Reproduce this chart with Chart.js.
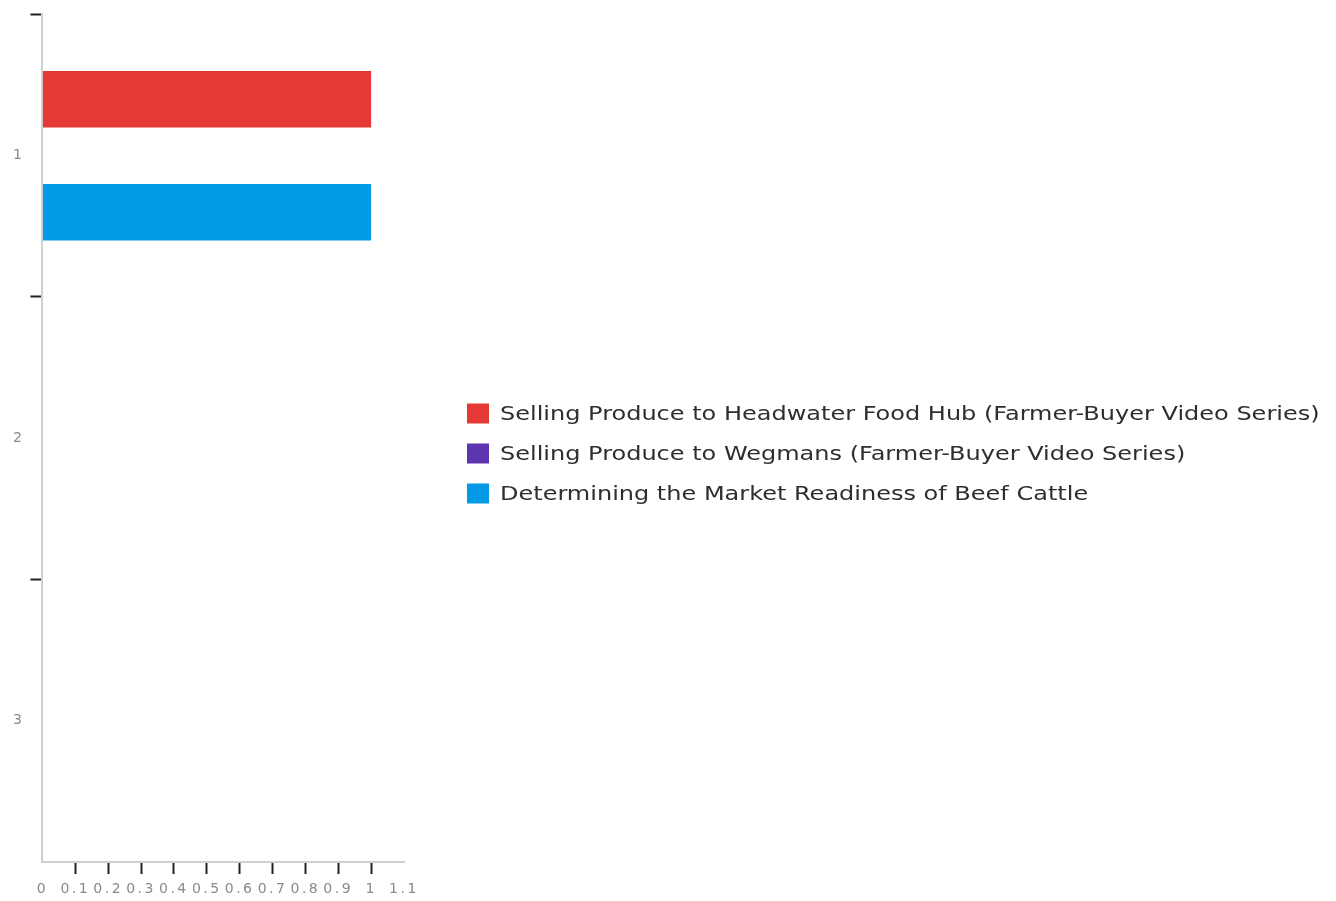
<!DOCTYPE html>
<html>
<head>
<meta charset="utf-8">
<script src="https://cdn.jsdelivr.net/npm/chart.js@4"></script>
<style>
  html, body { margin: 0; padding: 0; background: #fff; }
  #wrap { width: 1336px; height: 901px; }
</style>
</head>
<body>
<div id="wrap"><canvas id="chart" width="1336" height="901"></canvas></div>
<script>
// categories and series
var categories = ['1', '2', '3'];
var seriesNames = [
    'Selling Produce to Headwater Food Hub (Farmer-Buyer Video Series)',
    'Selling Produce to Wegmans (Farmer-Buyer Video Series)',
    'Determining the Market Readiness of Beef Cattle'
];
var headwaterValues = [1, 0, 0];
var wegmansValues = [0, 0, 0];
var beefCattleValues = [1, 0, 0];
var seriesColors = ['#e53935', '#5e35b1', '#039be5'];

// the tick text in the picture is widely spaced
var spacing = {
    id: 'spacing',
    beforeLayout: function (chart) { chart.ctx.letterSpacing = '2.5px'; },
    beforeDraw: function (chart) { chart.ctx.letterSpacing = '2.5px'; }
};

// legend drawn at the right, items stacked, text stretched wide
var sideLegend = {
    id: 'sideLegend',
    afterDraw: function (chart) {
        var c = chart.ctx;
        var sets = chart.data.datasets;
        var x = chart.chartArea.right + 63;
        var rowH = 40;
        var top = chart.height / 2 + 3 - (sets.length * rowH) / 2;
        c.save();
        c.letterSpacing = '0px';
        c.font = '20px "DejaVu Sans"';
        c.textBaseline = 'middle';
        c.textAlign = 'left';
        sets.forEach(function (ds, i) {
            var y = top + rowH * i + rowH / 2;
            c.fillStyle = ds.backgroundColor;
            c.fillRect(x, y - 10, 22, 20);
            c.save();
            c.translate(x + 33, y + 1);
            c.scale(1.2, 1);
            c.fillStyle = '#2e2e2e';
            c.fillText(ds.label, 0, 0);
            c.restore();
        });
        c.restore();
    }
};

var ctx = document.getElementById('chart').getContext('2d');
var chart = new Chart(ctx, {
    type: 'bar',
    data: {
        labels: categories,
        datasets: [
            { label: seriesNames[0], data: headwaterValues, backgroundColor: seriesColors[0] },
            { label: seriesNames[1], data: wegmansValues, backgroundColor: seriesColors[1] },
            { label: seriesNames[2], data: beefCattleValues, backgroundColor: seriesColors[2] }
        ]
    },
    plugins: [spacing, sideLegend],
    options: {
        indexAxis: 'y',
        responsive: false,
        animation: false,
        categoryPercentage: 0.6,
        barPercentage: 1,
        layout: { padding: { top: 4, left: 7, right: 932, bottom: 0 } },
        plugins: {
            tooltip: { enabled: false },
            legend: { display: false }
        },
        scales: {
            x: {
                min: 0,
                max: 1.1,
                afterFit: function (s) { s.height = 39; },
                ticks: {
                    stepSize: 0.1,
                    autoSkip: false,
                    maxRotation: 0,
                    color: '#8a8a8a',
                    padding: 7,
                    font: { family: 'DejaVu Sans', size: 14 },
                    callback: function (v) { return String(Number(v.toFixed(1))); }
                },
                grid: {
                    drawOnChartArea: false,
                    tickLength: 12,
                    tickWidth: 2,
                    tickColor: function (c) {
                        return (c.index === 0 || c.index === 11) ? 'rgba(0,0,0,0)' : '#222';
                    }
                },
                border: { color: '#d0d0d0', width: 2 }
            },
            y: {
                ticks: {
                    color: '#8a8a8a',
                    padding: 6,
                    font: { family: 'DejaVu Sans', size: 14 }
                },
                grid: {
                    drawOnChartArea: false,
                    tickLength: 12,
                    tickWidth: 2,
                    tickColor: function (c) {
                        return c.index === undefined ? 'rgba(0,0,0,0)' : '#222';
                    }
                },
                border: { color: '#d0d0d0', width: 2 }
            }
        }
    }
});
</script>
</body>
</html>
